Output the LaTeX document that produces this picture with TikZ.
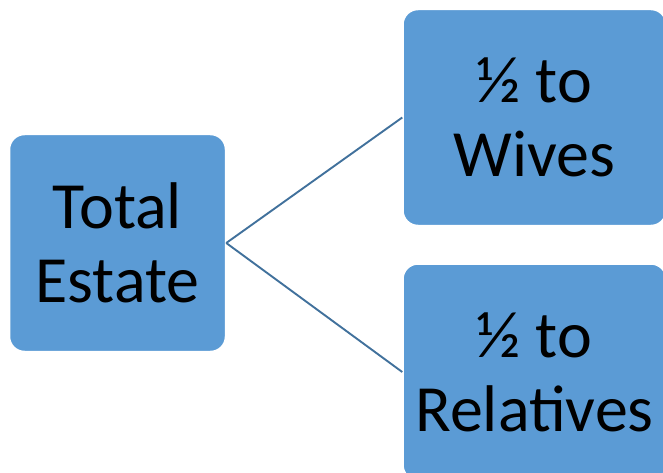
\documentclass[tikz,border=0pt]{standalone}
\usepackage{fontspec}
\setmainfont{Carlito}
\usetikzlibrary{positioning}
\definecolor{boxblue}{HTML}{5B9BD5}
\definecolor{lineblue}{HTML}{41719C}
\begin{document}
\begin{tikzpicture}[x=1pt,y=-1pt,
  box/.style={draw=white,line width=1.5pt,fill=boxblue,rounded corners=15pt,align=center,inner sep=0pt,font=\fontsize{66}{74}\selectfont},
  link/.style={draw=lineblue,line width=1.9pt}]
\useasboundingbox (0,0) rectangle (663,473);
\node (estate) [box,minimum width=216pt,minimum height=217pt] at (117.5,243) {Total\\Estate};
\node (wives) [box,minimum width=263pt,minimum height=216pt] at (534.5,117.5) {½ to\\Wives};
\node (relatives) [box,minimum width=263pt,minimum height=216pt,below=37pt of wives] {½ to\\Relatives};
\draw[link] (estate.east) -- (wives.west);
\draw[link] (estate.east) -- (relatives.west);
\end{tikzpicture}
\end{document}
